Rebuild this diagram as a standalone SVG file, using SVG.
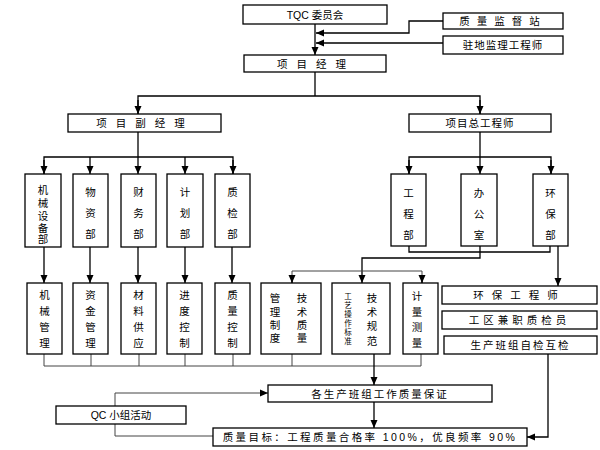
<svg xmlns="http://www.w3.org/2000/svg" width="600" height="450" viewBox="0 0 600 450">
<style>
rect{fill:#fff;stroke:#000;stroke-width:1.3}
text{font-family:"Liberation Sans","Noto Sans CJK SC",sans-serif;font-size:10.5px;fill:#000;text-anchor:middle}
.s{font-size:7.5px}
.c{fill:none;stroke:#000;stroke-width:1.3}
.g{fill:none;stroke:#444;stroke-width:1}
</style>
<defs>
<marker id="ah" markerUnits="userSpaceOnUse" markerWidth="8" markerHeight="8" viewBox="0 0 8 8" refX="8" refY="4" orient="auto">
<path d="M0,0.5 L8,4 L0,7.5 Z" fill="#000"/>
</marker>
</defs>
<g id="connectors">
<path class="c" d="M315,24 V55" marker-end="url(#ah)"/>
<path class="c" d="M443,21 H409 V33 H316" marker-end="url(#ah)"/>
<path class="c" d="M443,43 H316" marker-end="url(#ah)"/>
<path class="c" d="M315,72 V96"/>
<path class="c" d="M138,114 V96 H480 V114" />
<path class="c" d="M138,100 V114" marker-end="url(#ah)"/>
<path class="c" d="M480,100 V114" marker-end="url(#ah)"/>
<path class="c" d="M138,132 V157"/>
<path class="c" d="M44,174 V157 H233 V174"/>
<path class="c" d="M44,160 V174" marker-end="url(#ah)"/>
<path class="c" d="M90,157 V174" marker-end="url(#ah)"/>
<path class="c" d="M138,157 V174" marker-end="url(#ah)"/>
<path class="c" d="M185,157 V174" marker-end="url(#ah)"/>
<path class="c" d="M233,160 V174" marker-end="url(#ah)"/>
<path class="c" d="M44,247 V283" marker-end="url(#ah)"/>
<path class="c" d="M90,247 V283" marker-end="url(#ah)"/>
<path class="c" d="M138,247 V283" marker-end="url(#ah)"/>
<path class="c" d="M185,247 V283" marker-end="url(#ah)"/>
<path class="c" d="M232,247 V283" marker-end="url(#ah)"/>
<path class="c" d="M480,132 V157"/>
<path class="c" d="M409,174 V157 H551 V174"/>
<path class="c" d="M409,160 V174" marker-end="url(#ah)"/>
<path class="c" d="M480,157 V174" marker-end="url(#ah)"/>
<path class="c" d="M551,160 V174" marker-end="url(#ah)"/>
<path class="c" d="M409,246 V252 H550 V246"/>
<path class="c" d="M480,246 V258 H362 V283" marker-end="url(#ah)"/>
<path class="g" d="M292,283 V271 H422 V283"/>
<path class="c" d="M292,275 V283" marker-end="url(#ah)"/>
<path class="c" d="M422,275 V283" marker-end="url(#ah)"/>
<path class="c" d="M558,246 V286" marker-end="url(#ah)"/>
<path class="g" d="M44,354 V366 H421 V354 M91,354 V366 M139,354 V366 M185,354 V366 M233,354 V366 M292,354 V366"/>
<path class="c" d="M374,354 V385" marker-end="url(#ah)"/>
<path class="c" d="M374,402 V428" marker-end="url(#ah)"/>
<path class="g" d="M115,406 V393 H268" marker-end="url(#ah)"/>
<path class="g" d="M115,424 V436 H213"/>
<path class="c" d="M548,354 V437 H527" marker-end="url(#ah)"/>
</g>
<g id="tqc"><rect x="243" y="5" width="144" height="19"/><text x="315" y="18.5">TQC 委员会</text></g>
<g id="zljdz"><rect x="443" y="13" width="120" height="16"/><text x="503" y="25" letter-spacing="7">质量监督站</text></g>
<g id="zdjl"><rect x="443" y="36" width="120" height="18"/><text x="503" y="49" letter-spacing="1">驻地监理工程师</text></g>
<g id="xmjl"><rect x="244" y="55" width="142" height="17"/><text x="316" y="67.5" letter-spacing="9">项目经理</text></g>
<g id="xmfjl"><rect x="68" y="114" width="153" height="18"/><text x="145" y="127" letter-spacing="9">项目副经理</text></g>
<g id="xmzgcs"><rect x="409" y="114" width="142" height="18"/><text x="480" y="127" letter-spacing="1">项目总工程师</text></g>
<g id="jxsbb"><rect x="25" y="174" width="36" height="73"/>
<text x="43" y="194">机</text><text x="43" y="207">械</text><text x="43" y="220">设</text><text x="43" y="232">备</text><text x="43" y="243">部</text></g>
<g id="wzb"><rect x="73" y="174" width="35" height="73"/>
<text x="90.5" y="196">物</text><text x="90.5" y="217">资</text><text x="90.5" y="238">部</text></g>
<g id="cwb"><rect x="121" y="174" width="35" height="73"/>
<text x="138.5" y="196">财</text><text x="138.5" y="217">务</text><text x="138.5" y="238">部</text></g>
<g id="jhb"><rect x="167" y="174" width="36" height="73"/>
<text x="185" y="196">计</text><text x="185" y="217">划</text><text x="185" y="238">部</text></g>
<g id="zjb"><rect x="215" y="174" width="35" height="73"/>
<text x="232.5" y="196">质</text><text x="232.5" y="217">检</text><text x="232.5" y="238">部</text></g>
<g id="gcb"><rect x="391" y="174" width="35" height="72"/>
<text x="408.5" y="197">工</text><text x="408.5" y="218">程</text><text x="408.5" y="239">部</text></g>
<g id="bgs"><rect x="461" y="174" width="36" height="72"/>
<text x="479" y="197">办</text><text x="479" y="218">公</text><text x="479" y="239">室</text></g>
<g id="hbb"><rect x="533" y="174" width="35" height="72"/>
<text x="550.5" y="197">环</text><text x="550.5" y="218">保</text><text x="550.5" y="239">部</text></g>
<g id="jxgl"><rect x="27" y="283" width="35" height="71"/>
<text x="44.5" y="299">机</text><text x="44.5" y="315">械</text><text x="44.5" y="331">管</text><text x="44.5" y="347">理</text></g>
<g id="zjgl"><rect x="73" y="283" width="35" height="71"/>
<text x="90.5" y="299">资</text><text x="90.5" y="315">金</text><text x="90.5" y="331">管</text><text x="90.5" y="347">理</text></g>
<g id="clgy"><rect x="121" y="283" width="35" height="71"/>
<text x="138.5" y="299">材</text><text x="138.5" y="315">料</text><text x="138.5" y="331">供</text><text x="138.5" y="347">应</text></g>
<g id="jdkz"><rect x="167" y="283" width="35" height="71"/>
<text x="184.5" y="299">进</text><text x="184.5" y="315">度</text><text x="184.5" y="331">控</text><text x="184.5" y="347">制</text></g>
<g id="zlkz"><rect x="215" y="283" width="35" height="71"/>
<text x="232.5" y="299">质</text><text x="232.5" y="315">量</text><text x="232.5" y="331">控</text><text x="232.5" y="347">制</text></g>
<g id="glzd"><rect x="261" y="283" width="60" height="71"/>
<text x="275" y="302">管</text><text x="275" y="316">理</text><text x="275" y="329">制</text><text x="275" y="342">度</text>
<text x="302" y="302">技</text><text x="302" y="316">术</text><text x="302" y="329">质</text><text x="302" y="342">量</text></g>
<g id="gycz"><rect x="332" y="283" width="58" height="71"/>
<text class="s" x="348" y="299">工</text><text class="s" x="348" y="308">艺</text><text class="s" x="348" y="317">操</text><text class="s" x="348" y="326">作</text><text class="s" x="348" y="335">标</text><text class="s" x="348" y="344">准</text>
<text x="372" y="302">技</text><text x="372" y="316">术</text><text x="372" y="330">规</text><text x="372" y="345">范</text></g>
<g id="jlcl"><rect x="403" y="283" width="35" height="71"/>
<text x="417" y="300">计</text><text x="417" y="316">量</text><text x="417" y="331">测</text><text x="417" y="347">量</text></g>
<g id="hbgcs"><rect x="442" y="286" width="155" height="18"/><text x="519.5" y="299" letter-spacing="8">环保工程师</text></g>
<g id="gqjz"><rect x="442" y="311" width="155" height="18"/><text x="519.5" y="324" letter-spacing="4">工区兼职质检员</text></g>
<g id="scbz"><rect x="444" y="336" width="153" height="18"/><text x="520.5" y="349" letter-spacing="2">生产班组自检互检</text></g>
<g id="gscbz"><rect x="268" y="385" width="224" height="17"/><text x="380" y="397.5" letter-spacing="2">各生产班组工作质量保证</text></g>
<g id="qc"><rect x="56" y="406" width="130" height="18"/><text x="121" y="419">QC 小组活动</text></g>
<g id="zlmb"><rect x="213" y="428" width="314" height="18"/><text x="370" y="441" letter-spacing="2.4">质量目标：工程质量合格率 100%，优良频率 90%</text></g>
</svg>
